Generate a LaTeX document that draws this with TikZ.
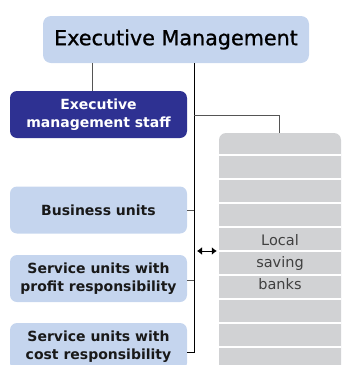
\documentclass[tikz,border=0pt]{standalone}
\usepackage{fontspec}
\setmainfont{DejaVu Sans}
\newfontfamily\headfont[FakeBold=1]{DejaVu Sans}
\usetikzlibrary{positioning,arrows.meta}
\definecolor{lightblue}{HTML}{C5D5EE}
\definecolor{staffblue}{HTML}{2E3192}
\definecolor{bankgray}{HTML}{D1D2D4}
\definecolor{linegray}{HTML}{555555}
\definecolor{textgray}{HTML}{404040}
\tikzset{
	unit/.style = {fill=lightblue, rounded corners=7pt, minimum width=177pt, minimum height=47pt,
		inner sep=0pt, align=center, text=black!90, font=\bfseries\fontsize{14}{18}\selectfont},
	tick/.style = {linegray, line width=1pt},
}
\begin{document}
\begin{tikzpicture}[x=1pt, y=-1pt]
	\useasboundingbox (0,0) rectangle (342,365);
	% head of the bank
	\node[fill=lightblue, rounded corners=8pt, minimum width=266pt, minimum height=47pt,
		font=\headfont\fontsize{20.7}{22}\selectfont] (exec) at (176,39.5) {Executive Management};
	
	% units on the left
	\node[unit, fill=staffblue, text=white] (staff) at (98.5,114.5) {Executive\\management staff};
	\node[unit] (business) at (98.5,210) {Business units};
	\node[unit] (profit) at (98.5,278.5) {Service units with\\profit responsibility};
	\node[unit] (cost) at (98.5,346.5) {Service units with\\cost responsibility};
	
	% local saving banks
	\node[fill=bankgray, rounded corners=7pt, minimum width=122pt, minimum height=240pt] (banks) at (280,253) {};
	\foreach \y in {155, 179, ..., 347} {
		\draw[white, line width=1.2pt] (banks.west |- 0,\y) -- (banks.east |- 0,\y);
	}
	\node[text=textgray, align=center, font=\fontsize{14.5}{22}\selectfont] (banktext) at (280,262) {Local\\saving\\banks};
	
	% connectors
	\coordinate (spine) at (194,0);
	\draw[tick] ([xshift=-6.5pt]staff.north |- exec.south) -- ([xshift=-6.5pt]staff.north);
	\draw[black, line width=1pt] (exec.south -| spine) -- (spine |- 0,352) -- (cost.east |- 0,352);
	\draw[tick] (business.east) -- (business.east -| spine);
	\draw[tick] (profit.east |- 0,280) -- (spine |- 0,280);
	\draw[tick] (spine |- 0,115) -- ([xshift=-1pt]banks.north |- 0,115) -- ([xshift=-1pt]banks.north);
	\draw[black, line width=1pt, {Latex[length=5pt,width=8pt]}-{Latex[length=5pt,width=8pt]}]
		([xshift=3pt]spine |- 0,251) -- ([xshift=-2pt]banks.west |- 0,251);
\end{tikzpicture}
\end{document}
